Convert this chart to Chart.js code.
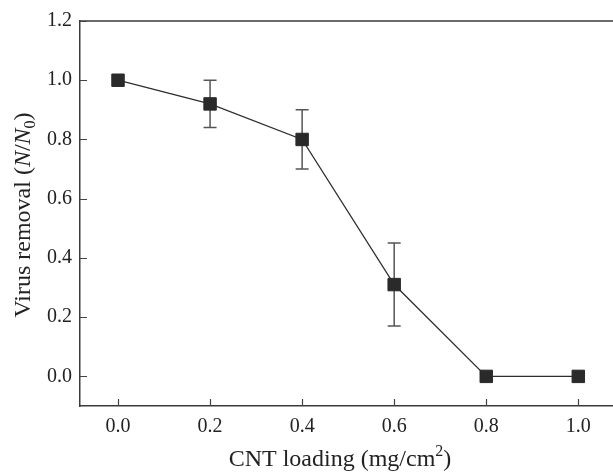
<!DOCTYPE html>
<html>
<head>
<meta charset="utf-8">
<script src="https://cdn.jsdelivr.net/npm/chart.js@4"></script>
<style>
  html, body { margin: 0; padding: 0; background: #fff; }
  #wrap { width: 613px; height: 472px; position: relative; }
</style>
</head>
<body>
<div id="wrap"><canvas id="c" width="613" height="472"></canvas></div>
<script>
// ---- data ----
const cntLoading = [0.0, 0.2, 0.4, 0.6, 0.8, 1.0];
const virusRemoval = [1.00, 0.92, 0.80, 0.31, 0.00, 0.00];
const errUpper = [null, 1.00, 0.90, 0.45, null, null];
const errLower = [null, 0.84, 0.70, 0.17, null, null];
const xTickValues = [0.0, 0.2, 0.4, 0.6, 0.8, 1.0];
const yTickValues = [0.0, 0.2, 0.4, 0.6, 0.8, 1.0, 1.2];
const xTitleMain = "CNT loading (mg/cm";
const xTitleSup = "2";
const yTitleParts = ["Virus removal (", "N", "/", "N", "0", ")"];

const FONT = "'Liberation Serif', 'DejaVu Serif', serif";
const AXIS = '#3a3a3a';

const points = cntLoading.map((x, i) => ({ x: x, y: virusRemoval[i] }));

const decor = {
  id: 'decor',
  beforeDatasetsDraw(chart) {
    const ctx = chart.ctx, xs = chart.scales.x, ys = chart.scales.y;
    ctx.save();
    ctx.strokeStyle = '#555';
    ctx.lineWidth = 1.5;
    cntLoading.forEach((x, i) => {
      if (errUpper[i] == null) return;
      const px = xs.getPixelForValue(x);
      const pu = ys.getPixelForValue(errUpper[i]);
      const pl = ys.getPixelForValue(errLower[i]);
      ctx.beginPath();
      ctx.moveTo(px, pu); ctx.lineTo(px, pl);
      ctx.moveTo(px - 6.5, pu); ctx.lineTo(px + 6.5, pu);
      ctx.moveTo(px - 6.5, pl); ctx.lineTo(px + 6.5, pl);
      ctx.stroke();
    });
    ctx.restore();
  },
  afterDraw(chart) {
    const ctx = chart.ctx, xs = chart.scales.x, ys = chart.scales.y;
    const a = chart.chartArea;
    ctx.save();
    // top frame line
    ctx.strokeStyle = AXIS;
    ctx.lineWidth = 1.5;
    ctx.beginPath();
    ctx.moveTo(a.left, a.top); ctx.lineTo(chart.width, a.top);
    ctx.stroke();
    // inward tick marks
    ctx.lineWidth = 1.2;
    ctx.strokeStyle = '#444';
    ctx.beginPath();
    xTickValues.forEach(v => {
      const px = Math.round(xs.getPixelForValue(v)) + 0.5;
      ctx.moveTo(px, a.bottom); ctx.lineTo(px, a.bottom - 7);
    });
    yTickValues.forEach(v => {
      const py = Math.round(ys.getPixelForValue(v)) + 0.5;
      ctx.moveTo(a.left, py); ctx.lineTo(a.left + 7, py);
    });
    ctx.stroke();

    // x title
    ctx.fillStyle = '#222';
    ctx.textBaseline = 'alphabetic';
    const mainFont = "24px " + FONT;
    const supFont = "16px " + FONT;
    ctx.font = mainFont;
    const w1 = ctx.measureText(xTitleMain).width;
    ctx.font = supFont;
    const w2 = ctx.measureText(xTitleSup).width;
    ctx.font = mainFont;
    const w3 = ctx.measureText(")").width;
    const total = w1 + w2 + w3;
    let x0 = 340 - total / 2;
    const by = 466;
    ctx.textAlign = 'left';
    ctx.fillText(xTitleMain, x0, by);
    ctx.font = supFont;
    ctx.fillText(xTitleSup, x0 + w1, by - 10);
    ctx.font = mainFont;
    ctx.fillText(")", x0 + w1 + w2, by);

    // y title (rotated)
    ctx.save();
    ctx.translate(30, 215);
    ctx.rotate(-Math.PI / 2);
    const fonts = [mainFont, "italic 24px " + FONT, mainFont, "italic 24px " + FONT, supFont, mainFont];
    const offs = [0, 0, 0, 0, 5, 0];
    let widths = yTitleParts.map((t, i) => { ctx.font = fonts[i]; return ctx.measureText(t).width; });
    const tw = widths.reduce((s, v) => s + v, 0);
    let cx = -tw / 2;
    yTitleParts.forEach((t, i) => {
      ctx.font = fonts[i];
      ctx.fillText(t, cx, offs[i]);
      cx += widths[i];
    });
    ctx.restore();
    ctx.restore();
  }
};

new Chart(document.getElementById('c'), {
  type: 'scatter',
  data: {
    datasets: [{
      data: points,
      showLine: true,
      borderColor: '#2e2e2e',
      borderWidth: 1.3,
      pointStyle: 'rect',
      pointRadius: 8.8,
      pointHoverRadius: 8.8,
      pointBackgroundColor: '#2a2a2a',
      pointBorderColor: '#2a2a2a',
      pointBorderWidth: 1,
      tension: 0
    }]
  },
  options: {
    responsive: false,
    animation: false,
    devicePixelRatio: 1,
    layout: { autoPadding: false, padding: { top: 21, right: 0, left: 0, bottom: 0 } },
    plugins: { legend: { display: false }, tooltip: { enabled: false } },
    scales: {
      x: {
        type: 'linear',
        min: -0.0826,
        max: 1.0754,
        afterBuildTicks: s => { s.ticks = xTickValues.map(v => ({ value: v })); },
        afterFit: s => { s.height = 66; s.paddingLeft = 0; s.paddingRight = 0; },
        grid: { display: false, drawTicks: false },
        border: { display: true, color: AXIS, width: 1.5 },
        ticks: {
          padding: 9,
          color: '#222',
          font: { family: FONT, size: 20 },
          callback: v => Number(v).toFixed(1),
          maxRotation: 0
        }
      },
      y: {
        type: 'linear',
        min: -0.1,
        max: 1.2,
        afterBuildTicks: s => { s.ticks = yTickValues.map(v => ({ value: v })); },
        afterFit: s => { s.width = 80; s.paddingTop = 0; s.paddingBottom = 0; },
        grid: { display: false, drawTicks: false },
        border: { display: true, color: AXIS, width: 1.5 },
        ticks: {
          padding: 8,
          color: '#222',
          font: { family: FONT, size: 20 },
          callback: v => Number(v).toFixed(1)
        }
      }
    }
  },
  plugins: [decor]
});
</script>
</body>
</html>
